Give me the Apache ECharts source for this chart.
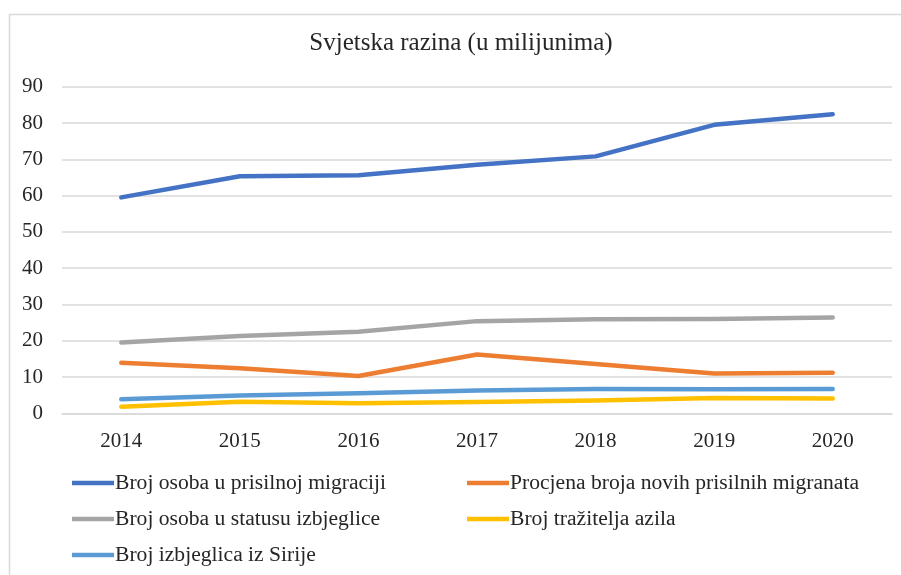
<!DOCTYPE html>
<html>
<head>
<meta charset="utf-8">
<script src="https://cdn.jsdelivr.net/npm/echarts@6/dist/echarts.min.js"></script>
<style>html,body{margin:0;padding:0;background:#fff}#c{width:901px;height:575px}</style>
</head>
<body>
<div id="c"></div>
<script>
const years = ['2014','2015','2016','2017','2018','2019','2020'];
const prisilnaMigracija = [59.5, 65.3, 65.6, 68.5, 70.8, 79.5, 82.4];
const noviMigranti = [13.9, 12.4, 10.3, 16.2, 13.6, 11.0, 11.2];
const izbjeglice = [19.5, 21.3, 22.5, 25.4, 25.9, 26.0, 26.4];
const traziteljiAzila = [1.8, 3.2, 2.8, 3.1, 3.5, 4.2, 4.1];
const izbjegliceSirija = [3.9, 4.9, 5.5, 6.3, 6.7, 6.6, 6.7];
const seriesNames = ['Broj osoba u prisilnoj migraciji','Procjena broja novih prisilnih migranata','Broj osoba u statusu izbjeglice','Broj tražitelja azila','Broj izbjeglica iz Sirije'];
const yTicks = [0,10,20,30,40,50,60,70,80,90];

const colors = ['#4472C4','#ED7D31','#A5A5A5','#FFC000','#5B9BD5'];
const dataSets = [prisilnaMigracija, noviMigranti, izbjeglice, traziteljiAzila, izbjegliceSirija];
const font = '"Liberation Serif","Times New Roman",serif';
const legendPos = [[72,471],[467,471],[72,507],[467,507],[72,543]];

const chart = echarts.init(document.getElementById('c'), null, {renderer:'canvas'});
chart.setOption({
  backgroundColor:'#fff',
  animation:false,
  title:{
    text:'Svjetska razina (u milijunima)',
    left:461, top:31, textAlign:'center', padding:0,
    textStyle:{fontFamily:font, fontSize:25, fontWeight:'normal', color:'#262626'}
  },
  graphic:[{type:'rect', shape:{x:9.5,y:14.5,width:1000,height:1000}, style:{fill:'none', stroke:'#D9D9D9', lineWidth:1.5}, silent:true}],
  legend: seriesNames.map((n,i)=>({
    data:[n], left:legendPos[i][0], top:legendPos[i][1], padding:0,
    icon:'rect', itemWidth:42, itemHeight:4.5, itemGap:0,
    textStyle:{fontFamily:font, fontSize:21.6, color:'#262626', padding:[0,0,0,-4], lineHeight:24},
    selectedMode:false
  })),
  grid:{left:62, right:9, top:86.7, bottom:161.7, containLabel:false},
  xAxis:{
    type:'category', data:years, boundaryGap:true,
    axisLine:{lineStyle:{color:'#D9D9D9', width:1.5}},
    axisTick:{show:false},
    axisLabel:{fontFamily:font, fontSize:21, color:'#262626', margin:18}
  },
  yAxis:{
    type:'value', min:yTicks[0], max:yTicks[yTicks.length-1], interval:10,
    axisLine:{show:false}, axisTick:{show:false},
    splitLine:{lineStyle:{color:'#D9D9D9', width:1.5}},
    axisLabel:{fontFamily:font, fontSize:21, color:'#262626', margin:19}
  },
  series: seriesNames.map((n,i)=>({
    name:n, type:'line', data:dataSets[i], showSymbol:false, symbol:'none',
    color:colors[i],
    lineStyle:{width:4.5, color:colors[i], cap:'round', join:'round'}
  }))
});
</script>
</body>
</html>
